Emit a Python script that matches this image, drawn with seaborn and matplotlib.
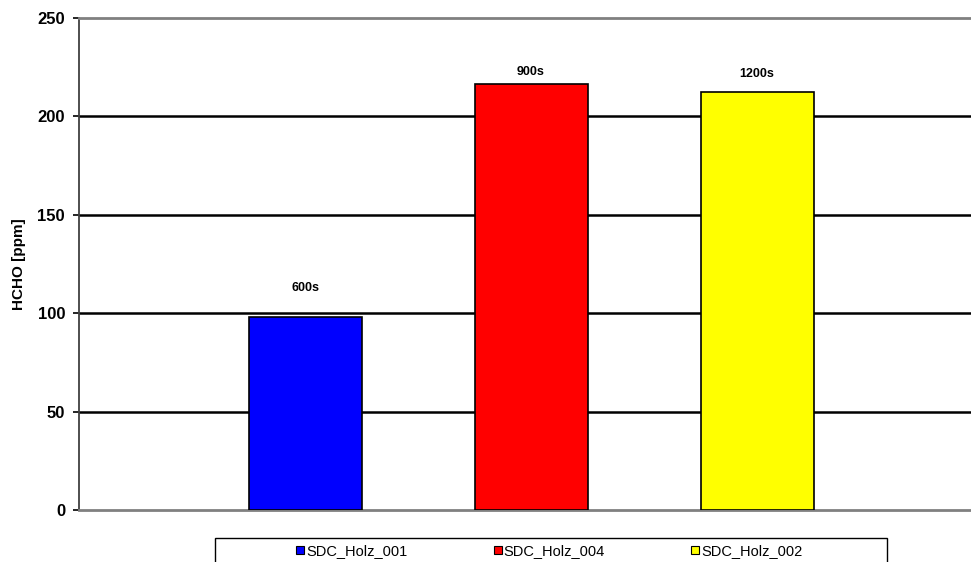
import pandas as pd
import seaborn as sns
import matplotlib.pyplot as plt
from matplotlib.lines import Line2D
from matplotlib.patches import Rectangle

sns.set_style("white")
plt.rcParams["font.family"] = ["Liberation Sans", "DejaVu Sans"]
plt.rcParams["text.color"] = "black"
plt.rcParams["axes.labelcolor"] = "black"
plt.rcParams["ytick.color"] = "black"

samples = ["SDC_Holz_001", "SDC_Holz_004", "SDC_Holz_002"]
hcho_ppm = [98.2, 216.3, 212.2]
bar_labels = ["600s", "900s", "1200s"]
bar_colors = ["#0000FF", "#FF0000", "#FFFF00"]

df = pd.DataFrame({"sample": samples, "hcho": hcho_ppm})

fig = plt.figure(figsize=(9.71, 5.62), dpi=100)
ax = fig.add_axes([79 / 971, 52 / 562, 904 / 971, 492 / 562])

sns.barplot(data=df, x="sample", y="hcho", hue="sample", order=samples,
            hue_order=samples, palette=bar_colors, saturation=1, width=0.5,
            dodge=False, edgecolor="black", linewidth=1.2, legend=False,
            ax=ax, zorder=3)

ax.set_xlim(-1, 3)
ax.set_ylim(0, 250)
ax.set_yticks(range(0, 251, 50))
ax.set_xticks([])
ax.set_xlabel("")
ax.set_ylabel("HCHO [ppm]", fontsize=11, fontweight="bold", labelpad=8)
for t in ax.get_yticklabels():
    t.set_fontweight("bold")
ax.tick_params(axis="y", labelsize=12, length=4, width=1.2, color="black",
               left=True, direction="out", pad=6)

for y in range(50, 250, 50):
    ax.axhline(y, color="black", lw=1.8, zorder=1)

for side in ["top", "bottom"]:
    ax.spines[side].set_color("#808080")
    ax.spines[side].set_linewidth(2)
ax.spines["left"].set_color("#404040")
ax.spines["left"].set_linewidth(1.3)
ax.spines["right"].set_visible(False)

# data labels above bars
offsets = [21, 9, 13.5]
for i, (val, lab) in enumerate(zip(hcho_ppm, bar_labels)):
    ax.annotate(lab, (i, val), xytext=(0, offsets[i]), textcoords="offset points",
                ha="center", va="center", fontsize=9, fontweight="bold")

# legend box at the bottom
fig.patches.append(Rectangle((215 / 971, -0.05), (887 - 215) / 971, 0.05 + 24 / 562,
                             transform=fig.transFigure, fill=False,
                             edgecolor="black", linewidth=1))
handles = [Line2D([], [], marker="s", ls="", markersize=6, markerfacecolor=c,
                  markeredgecolor="black", markeredgewidth=0.8) for c in bar_colors]
fig.legend(handles, samples, loc="center", bbox_to_anchor=(549 / 971, 11 / 562),
           ncol=3, frameon=False, fontsize=10.5, handlelength=0.6, handletextpad=0.1,
           columnspacing=5.9, borderpad=0)

fig.savefig("out.png", dpi=100)
